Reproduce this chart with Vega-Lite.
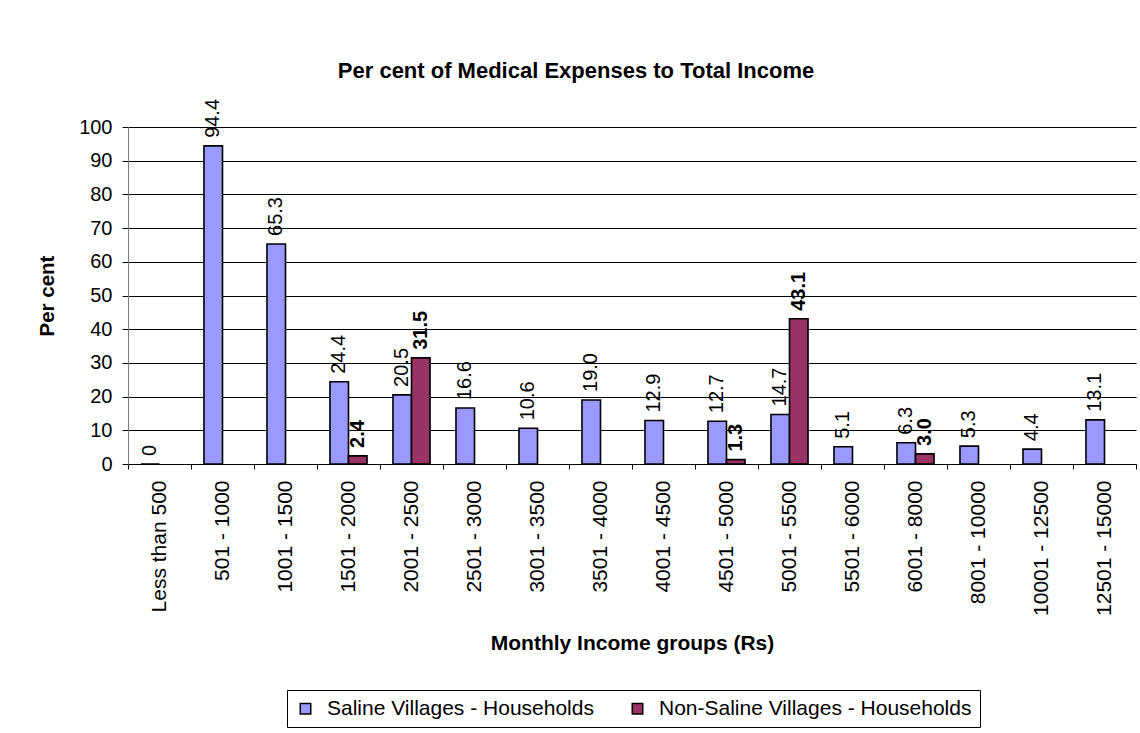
{
  "$schema": "https://vega.github.io/schema/vega-lite/v6.json",
  "width": 1008,
  "height": 337,
  "autosize": {"type": "none"},
  "padding": {"left": 128, "top": 127, "right": 4, "bottom": 269},
  "background": "white",
  "config": {"font": "Liberation Sans", "view": {"stroke": null}},
  "title": {
    "text": "Per cent of Medical Expenses to Total Income",
    "fontSize": 22,
    "fontWeight": "bold",
    "font": "Liberation Sans",
    "color": "black",
    "offset": 16,
    "dx": -56,
    "anchor": "middle"
  },
  "data": {
    "values": [
      {"group": "Less than 500", "series": "Saline Villages - Households", "value": 0, "label": "0"},
      {"group": "501 - 1000", "series": "Saline Villages - Households", "value": 94.4, "label": "94.4"},
      {"group": "1001 - 1500", "series": "Saline Villages - Households", "value": 65.3, "label": "65.3"},
      {"group": "1501 - 2000", "series": "Saline Villages - Households", "value": 24.4, "label": "24.4"},
      {"group": "1501 - 2000", "series": "Non-Saline Villages - Households", "value": 2.4, "label": "2.4"},
      {"group": "2001 - 2500", "series": "Saline Villages - Households", "value": 20.5, "label": "20.5"},
      {"group": "2001 - 2500", "series": "Non-Saline Villages - Households", "value": 31.5, "label": "31.5"},
      {"group": "2501 - 3000", "series": "Saline Villages - Households", "value": 16.6, "label": "16.6"},
      {"group": "3001 - 3500", "series": "Saline Villages - Households", "value": 10.6, "label": "10.6"},
      {"group": "3501 - 4000", "series": "Saline Villages - Households", "value": 19.0, "label": "19.0"},
      {"group": "4001 - 4500", "series": "Saline Villages - Households", "value": 12.9, "label": "12.9"},
      {"group": "4501 - 5000", "series": "Saline Villages - Households", "value": 12.7, "label": "12.7"},
      {"group": "4501 - 5000", "series": "Non-Saline Villages - Households", "value": 1.3, "label": "1.3"},
      {"group": "5001 - 5500", "series": "Saline Villages - Households", "value": 14.7, "label": "14.7"},
      {"group": "5001 - 5500", "series": "Non-Saline Villages - Households", "value": 43.1, "label": "43.1"},
      {"group": "5501 - 6000", "series": "Saline Villages - Households", "value": 5.1, "label": "5.1"},
      {"group": "6001 - 8000", "series": "Saline Villages - Households", "value": 6.3, "label": "6.3"},
      {"group": "6001 - 8000", "series": "Non-Saline Villages - Households", "value": 3.0, "label": "3.0"},
      {"group": "8001 - 10000", "series": "Saline Villages - Households", "value": 5.3, "label": "5.3"},
      {"group": "10001 - 12500", "series": "Saline Villages - Households", "value": 4.4, "label": "4.4"},
      {"group": "12501 - 15000", "series": "Saline Villages - Households", "value": 13.1, "label": "13.1"}
    ]
  },
  "encoding": {
    "x": {
      "field": "group",
      "type": "nominal",
      "sort": ["Less than 500", "501 - 1000", "1001 - 1500", "1501 - 2000", "2001 - 2500", "2501 - 3000", "3001 - 3500", "3501 - 4000", "4001 - 4500", "4501 - 5000", "5001 - 5500", "5501 - 6000", "6001 - 8000", "8001 - 10000", "10001 - 12500", "12501 - 15000"],
      "scale": {"paddingInner": 0, "paddingOuter": 0},
      "axis": {
        "title": "Monthly Income groups (Rs)",
        "titleFontSize": 21,
        "titleFontWeight": "bold",
        "titleColor": "black",
        "titlePadding": 17,
        "labelAngle": -90,
        "labelFontSize": 21,
        "labelColor": "black",
        "labelPadding": 11,
        "tickSize": 5,
        "tickColor": "black",
        "domainColor": "black",
        "tickBand": "extent",
        "grid": false,
        "labelLimit": 400
      }
    },
    "xOffset": {
      "field": "series",
      "type": "nominal",
      "sort": ["Saline Villages - Households", "Non-Saline Villages - Households"],
      "scale": {"paddingInner": 0, "paddingOuter": 0.7}
    },
    "y": {
      "field": "value",
      "type": "quantitative",
      "scale": {"domain": [0, 100], "nice": false},
      "axis": {
        "title": "Per cent",
        "titleFontSize": 20.5,
        "titleFontWeight": "bold",
        "titleColor": "black",
        "titlePadding": 21,
        "values": [0, 10, 20, 30, 40, 50, 60, 70, 80, 90, 100],
        "labelFontSize": 20,
        "labelColor": "black",
        "labelPadding": 10,
        "tickSize": 6,
        "tickColor": "black",
        "domainColor": "#808080",
        "grid": true,
        "gridColor": "black",
        "gridOpacity": 1,
        "gridWidth": 1
      }
    }
  },
  "layer": [
    {
      "mark": {"type": "bar", "stroke": "black", "strokeWidth": 1.6},
      "encoding": {
        "color": {
          "field": "series",
          "type": "nominal",
          "scale": {
            "domain": ["Saline Villages - Households", "Non-Saline Villages - Households"],
            "range": ["#9999FF", "#993366"]
          },
          "legend": {
            "title": null,
            "orient": "none",
            "legendX": 159,
            "legendY": 563,
            "direction": "horizontal",
            "strokeColor": "black",
            "fillColor": "white",
            "padding": 8,
            "symbolType": "square",
            "symbolSize": 110,
            "symbolStrokeColor": "black",
            "symbolStrokeWidth": 1.5,
            "symbolOpacity": 1,
            "labelFontSize": 21,
            "labelFont": "Liberation Sans",
            "labelColor": "black",
            "labelOffset": 11,
            "columnPadding": 33,
            "labelLimit": 500
          }
        }
      }
    },
    {
      "transform": [{"filter": "datum.series == 'Saline Villages - Households'"}],
      "mark": {"type": "text", "angle": 270, "align": "left", "baseline": "middle", "dx": 8, "fontSize": 20, "color": "black"},
      "encoding": {"text": {"field": "label", "type": "nominal"}}
    },
    {
      "transform": [{"filter": "datum.series == 'Non-Saline Villages - Households'"}],
      "mark": {"type": "text", "angle": 270, "align": "left", "baseline": "middle", "dx": 8, "fontSize": 20, "fontWeight": "bold", "color": "black"},
      "encoding": {"text": {"field": "label", "type": "nominal"}}
    }
  ]
}
